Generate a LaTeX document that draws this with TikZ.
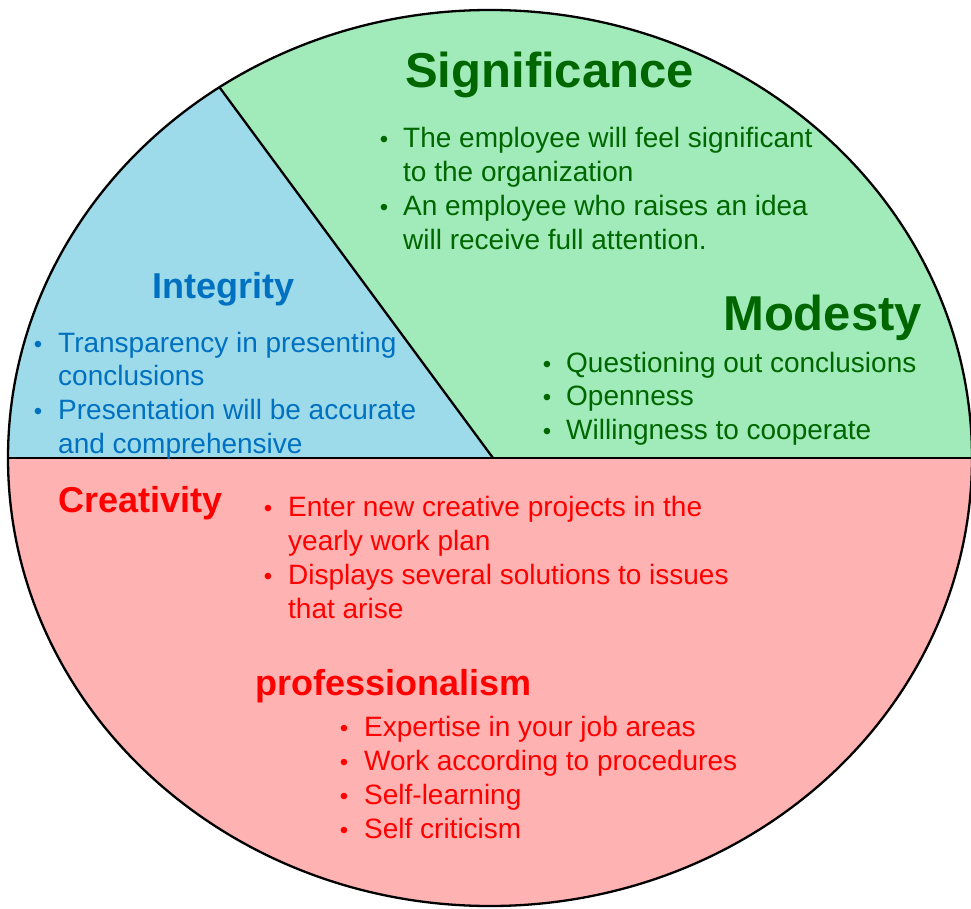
\documentclass[tikz,border=0pt]{standalone}
\usepackage{fontspec}
\setmainfont{Liberation Sans}
\usetikzlibrary{calc}
\definecolor{greenfill}{RGB}{160,235,185}
\definecolor{bluefill}{RGB}{157,219,234}
\definecolor{pinkfill}{RGB}{255,178,178}
\definecolor{greentext}{RGB}{0,102,0}
\definecolor{bluetext}{RGB}{0,112,192}
\definecolor{redtext}{RGB}{255,0,0}
\tikzset{
  body/.style={anchor=base west, inner sep=0pt, font=\fontsize{28}{34}\selectfont},
  bul/.style={anchor=base, inner sep=0pt, font=\fontsize{24}{24}\selectfont},
  bigtitle/.style={anchor=base west, inner sep=0pt, font=\bfseries\fontsize{49}{52}\selectfont},
  title/.style={anchor=base west, inner sep=0pt, font=\bfseries\fontsize{36}{40}\selectfont},
  outline/.style={draw=black, line width=2.3pt},
}
\begin{document}
\begin{tikzpicture}[x=1pt, y=-1pt]
\clip (0,0) rectangle (971,909);
\useasboundingbox (0,0) rectangle (971,909);

% pie geometry
\coordinate (c) at (490,458);
\coordinate (rimtop) at (219.4,87.2);
\coordinate (mid) at (493,458);
\coordinate (left) at (8,458);
\coordinate (right) at (972,458);

% sector fills
\begin{scope}
  \clip (c) ellipse [x radius=482, y radius=448];
  \fill[pinkfill] (-10,458) rectangle (990,920);
  \fill[greenfill] (-10,-10) rectangle (990,458);
  \fill[bluefill] (-10,458) -- (-10,-10) -- ($(mid)!1.3!(rimtop)$) -- (mid) -- cycle;
\end{scope}

% sector borders
\draw[outline] (left) -- (right);
\draw[outline] (rimtop) -- (mid);
\draw[outline] (c) ellipse [x radius=482, y radius=448];

% Significance
\begin{scope}[greentext]
  \node[bigtitle] (sig) at (405,88) {Significance};
  \node[bul] (sigb1) at (384,148) {•};
  \node[body] (sig1) at (403,148) {The employee will feel significant};
  \node[body] (sig2) at (403,182) {to the organization};
  \node[bul] (sigb2) at (384,216) {•};
  \node[body] (sig3) at (403,216) {An employee who raises an idea};
  \node[body] (sig4) at (403,250) {will receive full attention.};
\end{scope}

% Modesty
\begin{scope}[greentext]
  \node[bigtitle] (mod) at (723,330) {Modesty};
  \node[bul] (modb1) at (547,372) {•};
  \node[body] (mod1) at (566,372) {Questioning out conclusions};
  \node[bul] (modb2) at (547,405) {•};
  \node[body] (mod2) at (566,405) {Openness};
  \node[bul] (modb3) at (547,439) {•};
  \node[body] (mod3) at (566,439) {Willingness to cooperate};
\end{scope}

% Integrity
\begin{scope}[bluetext]
  \node[title] (int) at (152,298) {Integrity};
  \node[bul] (intb1) at (38,352) {•};
  \node[body] (int1) at (58,352) {Transparency in presenting};
  \node[body] (int2) at (58,385) {conclusions};
  \node[bul] (intb2) at (38,419) {•};
  \node[body] (int3) at (58,419) {Presentation will be accurate};
  \node[body] (int4) at (58,453) {and comprehensive};
\end{scope}

% Creativity
\begin{scope}[redtext]
  \node[title] (cre) at (58,512) {Creativity};
  \node[bul] (creb1) at (268,516) {•};
  \node[body] (cre1) at (288,516) {Enter new creative projects in the};
  \node[body] (cre2) at (288,550) {yearly work plan};
  \node[bul] (creb2) at (268,584) {•};
  \node[body] (cre3) at (288,584) {Displays several solutions to issues};
  \node[body] (cre4) at (288,618) {that arise};
\end{scope}

% professionalism
\begin{scope}[redtext]
  \node[title] (pro) at (255,695) {professionalism};
  \node[bul] (prob1) at (344,736) {•};
  \node[body] (pro1) at (364,736) {Expertise in your job areas};
  \node[bul] (prob2) at (344,770) {•};
  \node[body] (pro2) at (364,770) {Work according to procedures};
  \node[bul] (prob3) at (344,804) {•};
  \node[body] (pro3) at (364,804) {Self-learning};
  \node[bul] (prob4) at (344,838) {•};
  \node[body] (pro4) at (364,838) {Self criticism};
\end{scope}
\end{tikzpicture}
\end{document}
